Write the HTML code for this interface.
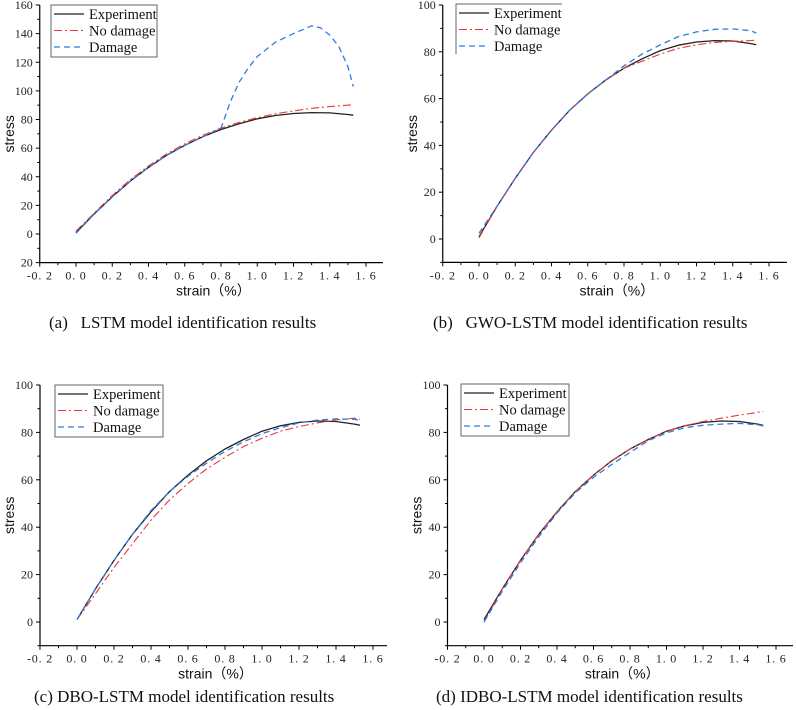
<!DOCTYPE html>
<html><head><meta charset="utf-8"><style>
html,body{margin:0;padding:0;background:#fff;}
svg{display:block;font-family:"Liberation Serif","Noto Serif CJK SC",serif;}
.cap{white-space:pre;}
</style></head><body>
<svg id="fig" width="796" height="710" viewBox="0 0 796 710" xmlns="http://www.w3.org/2000/svg"></svg>
<script>
const xs = [0,0.1,0.2,0.3,0.4,0.5,0.6,0.7,0.8,0.9,1.0,1.1,1.2,1.3,1.4,1.5,1.53];
const expY = [1,14,26,37,46.5,55,62,68,73,77,80.5,82.8,84.2,84.8,84.6,83.5,83];
const aNoDmg = [2,14.5,27,38,47.5,56,63,69,74,78,81.3,84,86,87.8,89,90,90.3];
const aDmgX = [0,0.1,0.2,0.3,0.4,0.5,0.6,0.7,0.8,0.85,0.9,0.95,1.0,1.1,1.2,1.3,1.35,1.4,1.45,1.5,1.53];
const aDmg = [0.5,14,26,37,46.5,55,62,68,74,92,106,116,124,134,140,145.5,144,139,131,117,103];
const bNoDmg = [0.5,14,26,37,46.5,55,62,68,73,76,79,81.5,83,84,84.5,84.8,85];
const bDmg = [2.5,14,26,37,46.5,55,62,68,74,79,83,86.5,88.5,89.6,89.8,89,88];
const cNoDmg = [1,12,23,33,43,51.5,58.5,64.5,69.5,74,77.5,80.5,82.5,84,85.3,86,85.5];
const cDmg = [1,14,26,37,47,55,61.5,67,72,76,79.5,82,84,85.2,85.7,85.5,85];
const dNoDmg = [0,14,26,37,46.5,55,62,68,73,77,80.5,82.8,84.6,86,87.3,88.5,88.8];
const dDmg = [0,13,25,36,46,54.5,61,66.5,71.5,76.5,79.8,82,83,83.5,83.8,83.2,82.7];
const xTicks = ["-0.2","0.0","0.2","0.4","0.6","0.8","1.0","1.2","1.4","1.6"];
const aYTicks = ["20","0","20","40","60","80","100","120","140","160"];
const bYTicks = ["0","20","40","60","80","100"];

const NS="http://www.w3.org/2000/svg";
const svg=document.getElementById('fig');
function mk(tag,attrs,parent,text){const e=document.createElementNS(NS,tag);for(const k in attrs)e.setAttribute(k,attrs[k]);if(text!==undefined)e.textContent=text;(parent||svg).appendChild(e);return e;}

function panel(id,cfg){
  const g=mk('g',{});
  
  
  const X=v=>cfg.x0+(v)*(cfg.x16-cfg.x0)/1.6;
  const Y=v=>cfg.y0-(v)*cfg.ys;
  const left=X(-0.2), right=cfg.xEnd, bottom=Y(cfg.yMin), top=Y(cfg.yMax);
  const ax=mk('path',{d:`M${left},${top} L${left},${bottom} L${right},${bottom}`,stroke:'#000','stroke-width':1.2,fill:'none'},g);
  
  
  for(let i=0;i<=18;i++){
    const v=-0.2+i*0.1; const px=X(v);
    mk('line',{x1:px,x2:px,y1:bottom,y2:bottom+(i%2==0?4:2.5),stroke:'#000','stroke-width':1},g);
  }
  xTicks.forEach((t,i)=>{
    const v=-0.2+i*0.2;
    const tx=mk('text',{x:X(v),y:bottom+17,'font-size':12,'text-anchor':'middle','letter-spacing':'0.8',fill:'#222'},g,t.replace('.','. '));
    
    
  });
  const step=cfg.yStep;
  for(let v=cfg.yMin; v<=cfg.yMax+0.01; v+=step/2){
    const major=Math.abs((v/step)-Math.round(v/step))<0.01;
    mk('line',{x1:left,x2:left-(major?4:2.5),y1:Y(v),y2:Y(v),stroke:'#000','stroke-width':1},g);
  }
  cfg.yLabels.forEach((t,i)=>{
    const v=cfg.yLabelStart+i*step;
    const ty=mk('text',{x:left-7,y:Y(v)+4,'font-size':12,'text-anchor':'end',fill:'#222'},g,t);
    
    
  });
  const yt=mk('text',{x:0,y:0,'font-size':14,'text-anchor':'middle',fill:'#111','font-family':'Liberation Sans, sans-serif',transform:`translate(${left-26},${(top+bottom)/2}) rotate(-90)`},g,'stress');
  
  
  const xt=mk('text',{x:(left+right)/2+2,y:bottom+33,'font-size':14,'text-anchor':'middle',fill:'#111','font-family':'Liberation Sans, Noto Sans CJK SC, sans-serif'},g,'strain（%）');
  
  
  const series=[
    {name:'experiment-line',xv:xs,yv:expY,color:'#222',dash:'',w:1.3},
    {name:'no-damage-line',xv:xs,yv:cfg.nd,color:'#e8363a',dash:'8,3,2,3',w:1.1},
    {name:'damage-line',xv:cfg.dx||xs,yv:cfg.dm,color:'#2f7be0',dash:'6,4',w:1.3}
  ];
  series.forEach(s=>{
    const d=s.yv.map((v,i)=>(i?'L':'M')+X(s.xv[i]).toFixed(1)+','+Y(v).toFixed(1)).join(' ');
    const p=mk('path',{d:d,stroke:s.color,'stroke-width':s.w,fill:'none','stroke-dasharray':s.dash,'stroke-linejoin':'round'},g);
    
    
  });
  const L=cfg.leg;
  const lg=mk('g',{},g);
  
  
  if(cfg.partialLegend){
    mk('path',{d:`M${L.x},${L.y+L.h} L${L.x},${L.y} L${L.x+L.w},${L.y}`,stroke:'#666','stroke-width':1,fill:'none'},lg);
  } else {
    mk('rect',{x:L.x,y:L.y,width:L.w,height:L.h,fill:'#fff',stroke:'#666','stroke-width':1},lg);
  }
  const names=['Experiment','No damage','Damage'];
  series.forEach((s,i)=>{
    const yy=L.y+9+i*16.5;
    mk('line',{x1:L.x+3,x2:L.x+33,y1:yy,y2:yy,stroke:s.color,'stroke-width':s.w,'stroke-dasharray':s.dash},lg);
    const t=mk('text',{x:L.x+38,y:yy+5,'font-size':14.5,fill:'#111'},lg,names[i]);
    
    
  });
  const cap=mk('text',{x:cfg.capX,y:cfg.capY,'font-size':17,fill:'#111','class':'cap'},svg,cfg.cap);
  
  
}

panel('a',{x0:76,x16:366,xEnd:383,y0:234,ys:(234-5)/160,yMin:-20,yMax:160,yStep:20,yLabels:aYTicks,yLabelStart:-20,
  nd:aNoDmg,dm:aDmg,dx:aDmgX,leg:{x:51,y:5,w:106,h:52},cap:'(a)   LSTM model identification results',capX:49,capY:328});
panel('b',{x0:479,x16:769,xEnd:787,y0:239,ys:(239-5)/100,yMin:-10,yMax:100,yStep:20,yLabels:bYTicks,yLabelStart:0,
  nd:bNoDmg,dm:bDmg,leg:{x:456,y:4,w:106,h:50},partialLegend:true,cap:'(b)   GWO-LSTM model identification results',capX:433,capY:328});
panel('c',{x0:77,x16:373,xEnd:387,y0:622,ys:(622-385)/100,yMin:-10,yMax:100,yStep:20,yLabels:bYTicks,yLabelStart:0,
  nd:cNoDmg,dm:cDmg,leg:{x:55,y:385,w:108,h:52},cap:'(c) DBO-LSTM model identification results',capX:34,capY:702});
panel('d',{x0:484,x16:776,xEnd:793,y0:622,ys:(622-385)/100,yMin:-10,yMax:100,yStep:20,yLabels:bYTicks,yLabelStart:0,
  nd:dNoDmg,dm:dDmg,leg:{x:461,y:384,w:108,h:52},cap:'(d) IDBO-LSTM model identification results',capX:436,capY:702});
</script>
</body></html>
